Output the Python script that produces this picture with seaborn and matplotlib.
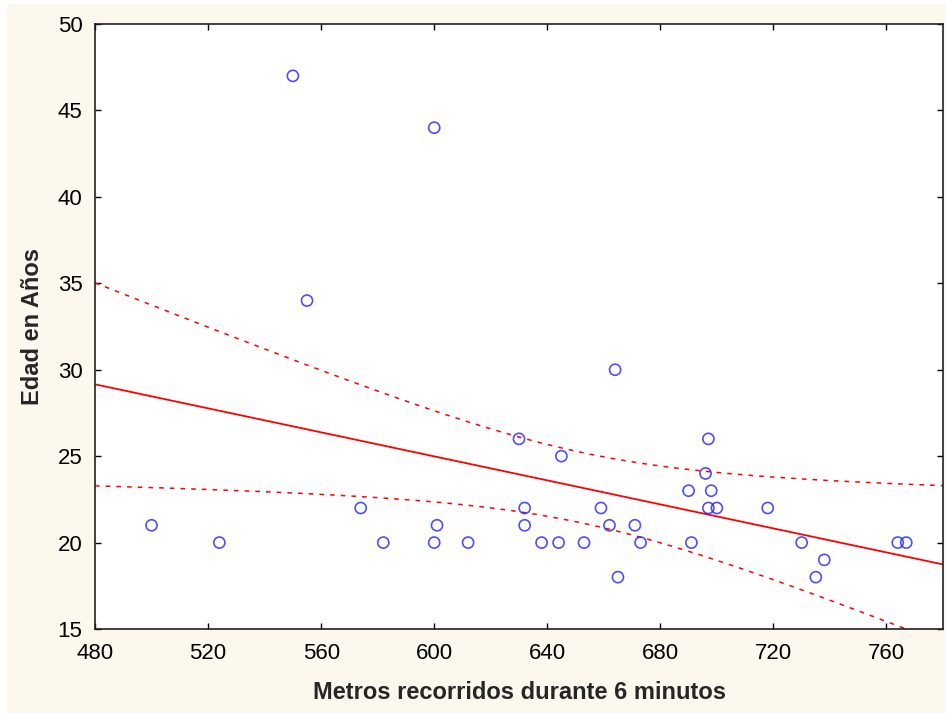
import numpy as np
import pandas as pd
import seaborn as sns
import matplotlib.pyplot as plt
from matplotlib.patches import Rectangle

# valores
metros = [500, 524, 550, 555, 574, 582, 600, 600, 601, 612, 630, 632, 632, 638, 644, 645, 653, 659,
          662, 664, 665, 671, 673, 690, 691, 696, 697, 697, 698, 700, 718, 730, 735, 738, 764, 767]
edad = [21, 20, 47, 34, 22, 20, 44, 20, 21, 20, 26, 22, 21, 20, 20, 25, 20, 22,
        21, 30, 18, 21, 20, 23, 20, 24, 26, 22, 23, 22, 22, 20, 18, 19, 20, 20]
x_ticks = [480, 520, 560, 600, 640, 680, 720, 760]
y_ticks = [15, 20, 25, 30, 35, 40, 45, 50]

df = pd.DataFrame({'metros': metros, 'edad': edad})

sns.set_theme(style='ticks')
plt.rcParams['font.family'] = ['Liberation Sans', 'DejaVu Sans']

fig = plt.figure(figsize=(9.46, 7.13), dpi=100, facecolor='white')
fig.patches.append(Rectangle((7 / 946, 0), 1, 1 - 4 / 713, transform=fig.transFigure,
                             facecolor='#fdf8ee', edgecolor='none', zorder=-10))
ax = fig.add_axes([95 / 946, 1 - 629 / 713, 848 / 946, 605 / 713])
ax.set_facecolor('white')
ax.set_xlim(480, 780)
ax.set_ylim(15, 50)

sns.regplot(data=df, x='metros', y='edad', ci=None, truncate=False, ax=ax,
            scatter_kws=dict(s=64, facecolors='none', edgecolors='#2222ff', linewidths=1.2, zorder=3),
            line_kws=dict(color='red', lw=1.3))

# banda de confianza 95% para la recta
x_grid = np.linspace(480, 780, 300)
b, a = np.polyfit(df.metros, df.edad, 1)
n = len(df)
resid = df.edad - (a + b * df.metros)
s = np.sqrt((resid ** 2).sum() / (n - 2))
sxx = ((df.metros - df.metros.mean()) ** 2).sum()
t = 2.032  # t(0.975, 34)
se = s * np.sqrt(1 / n + (x_grid - df.metros.mean()) ** 2 / sxx)
fit = a + b * x_grid
for band in (fit + t * se, fit - t * se):
    ax.plot(x_grid, band, color='red', lw=1.1, linestyle=(0, (3, 4)))

ax.set_xticks(x_ticks)
ax.set_yticks(y_ticks)
ax.tick_params(direction='in', length=4, width=1, top=True, right=True,
               labelsize=16, colors='black')
ax.tick_params(axis='x', pad=10)
ax.tick_params(axis='y', pad=9)
for sp in ax.spines.values():
    sp.set_visible(True)
    sp.set_linewidth(1.2)
    sp.set_color('#222222')

ax.set_xlabel('Metros recorridos durante 6 minutos', fontsize=17, fontweight='bold', labelpad=12)
ax.set_ylabel('Edad en Años', fontsize=17, fontweight='bold', labelpad=10)

fig.savefig('out.png', dpi=100)
